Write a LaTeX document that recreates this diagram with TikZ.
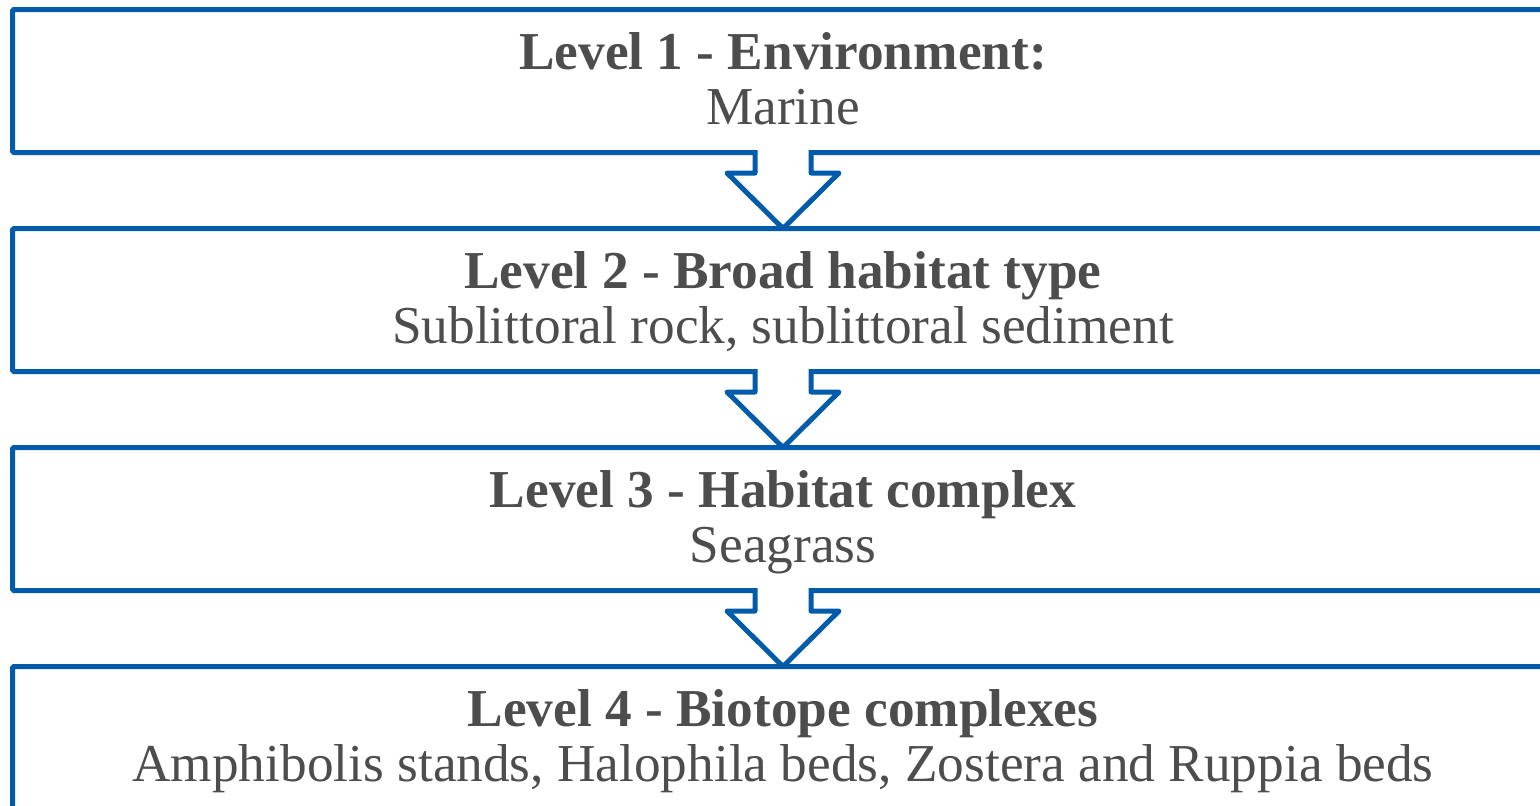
\documentclass[tikz,border=0pt]{standalone}
\usepackage{fontspec}
\setmainfont{Liberation Serif}
\usetikzlibrary{calc}
\definecolor{lineblue}{HTML}{005BAA}
\definecolor{txtgray}{HTML}{4D4D4D}
\begin{document}
\begin{tikzpicture}[x=1pt,y=-1pt,
  box/.style={draw=lineblue, line width=5pt, rounded corners=1.5pt, minimum width=1560pt, minimum height=143pt, inner sep=0pt, outer sep=0pt},
  lbl/.style={text=txtgray, font=\fontsize{53.3}{60}\selectfont, inner sep=0pt, anchor=base},
  blockarrow/.style={draw=lineblue, fill=white, line width=5pt, line join=round}]
\useasboundingbox (0,0) rectangle (1540,806);
\coordinate (ax) at (783,0);
\node[box] (b1) at (792.5,81) {};
\node[box] (b2) at (792.5,300) {};
\node[box] (b3) at (792.5,519) {};
\node[box] (b4) at (792.5,738) {};
\foreach \u/\v in {b1/b2,b2/b3,b3/b4}{
  \draw[blockarrow] ($(\u.south -| ax)+(-28,-2.5)$) |- ($(\u.south -| ax)+(-56,20.5)$)
    -- (\v.north -| ax) -- ($(\u.south -| ax)+(56,20.5)$) -| ($(\u.south -| ax)+(28,-2.5)$);
}
\node[lbl] (t1a) at (783,69.5) {\bfseries Level 1 - Environment:};
\node[lbl] (t1b) at (783,124) {Marine};
\node[lbl] (t2a) at (783,288.5) {\bfseries Level 2 - Broad habitat type};
\node[lbl] (t2b) at (783,343) {Sublittoral rock, sublittoral sediment};
\node[lbl] (t3a) at (783,507.5) {\bfseries Level 3 - Habitat complex};
\node[lbl] (t3b) at (783,562) {Seagrass};
\node[lbl] (t4a) at (783,726.5) {\bfseries Level 4 - Biotope complexes};
\node[lbl] (t4b) at (783,781) {Amphibolis stands, Halophila beds, Zostera and Ruppia beds};
\end{tikzpicture}
\end{document}
